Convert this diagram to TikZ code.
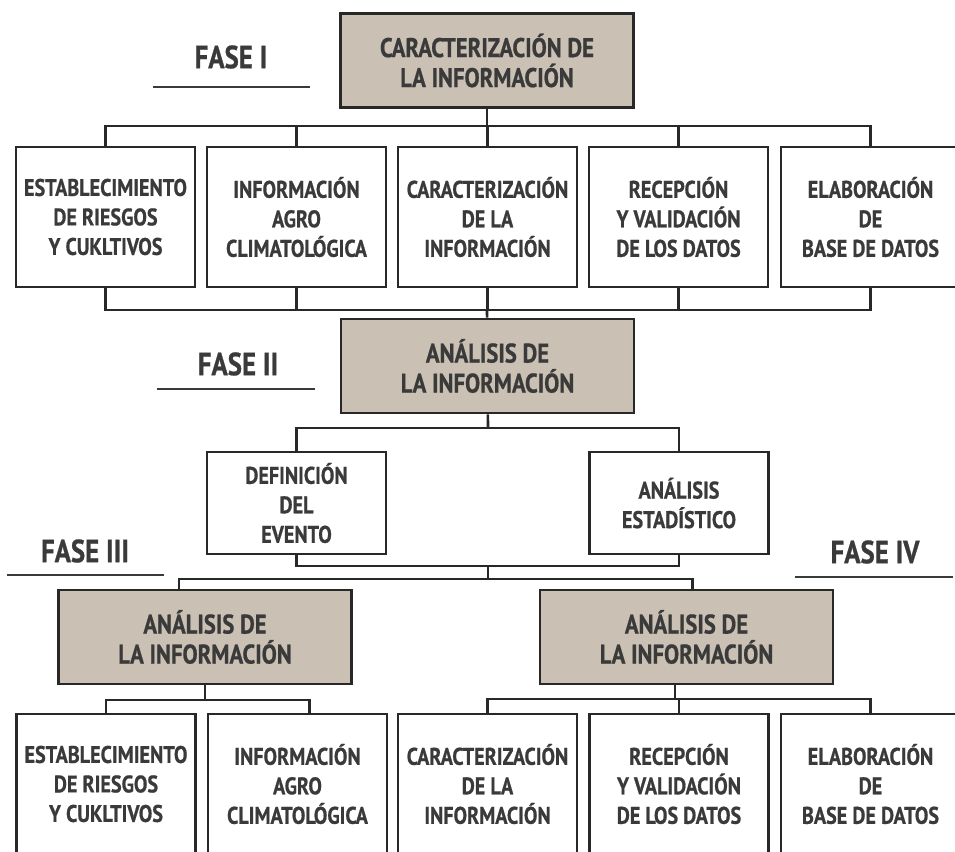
\documentclass[tikz,border=0pt]{standalone}
\usepackage{fontspec}
\setmainfont{PT Sans}[FakeStretch=0.84,BoldFeatures={FakeBold=0.7}]
\usetikzlibrary{calc}

\definecolor{cajagris}{RGB}{203,192,180}
\definecolor{tinta}{RGB}{58,58,58}
\definecolor{trazo}{RGB}{40,40,40}

\begin{document}
\begin{tikzpicture}[x=1pt,y=-1pt,
	caja/.style={draw=trazo,line width=2.8pt,fill=white,text=tinta,align=center,minimum width=179pt,minimum height=140pt,inner sep=0pt,font=\bfseries\fontsize{24}{29.5}\selectfont},
	cajafase/.style={caja,fill=cajagris,minimum width=293pt,minimum height=94pt,font=\bfseries\fontsize{27}{30}\selectfont},
	rotulo/.style={text=tinta,inner sep=0pt,font=\bfseries\fontsize{32}{34}\selectfont},
	raya/.style={draw=tinta,line width=2.5pt},
	enlace/.style={draw=trazo,line width=2.6pt}]
				\useasboundingbox (0,0) rectangle (955,851);
				\clip (0,0) rectangle (955,851);
				% fase I
				\node[rotulo] (fase1) at (231,57) {FASE I};
				\draw[raya] (153,87) -- (310,87);
				\node[cajafase] (top) at (487,60.5) {CARACTERIZACIÓN DE\\LA INFORMACIÓN};
				\node[caja] (r1a) at (105.5,217) {ESTABLECIMIENTO\\DE RIESGOS\\Y CUKLTIVOS};
				\node[caja] (r1b) at (296.5,217) {INFORMACIÓN\\AGRO\\CLIMATOLÓGICA};
				\node[caja] (r1c) at (487.5,217) {CARACTERIZACIÓN\\DE LA\\INFORMACIÓN};
				\node[caja] (r1d) at (678.5,217) {RECEPCIÓN\\Y VALIDACIÓN\\DE LOS DATOS};
				\node[caja] (r1e) at (870.5,217) {ELABORACIÓN\\DE\\BASE DE DATOS};
				% fase II
				\node[rotulo] (fase2) at (238,364) {FASE II};
				\draw[raya] (157,389) -- (315,389);
				\node[cajafase] (ana) at (487.5,366) {ANÁLISIS DE\\LA INFORMACIÓN};
				\node[caja,minimum height=102pt] (def) at (296.5,503) {DEFINICIÓN\\DEL\\EVENTO};
				\node[caja,minimum height=102pt] (est) at (679,503) {ANÁLISIS\\ESTADÍSTICO};
				% fases III y IV
				\node[rotulo] (fase3) at (85,551) {FASE III};
				\draw[raya] (7,575) -- (164,575);
				\node[rotulo] (fase4) at (875,552) {FASE IV};
				\draw[raya] (795,577) -- (953,577);
				\node[cajafase] (f3) at (205,637) {ANÁLISIS DE\\LA INFORMACIÓN};
				\node[cajafase] (f4) at (686.5,637) {ANÁLISIS DE\\LA INFORMACIÓN};
				\node[caja] (r2a) at (106,784) {ESTABLECIMIENTO\\DE RIESGOS\\Y CUKLTIVOS};
				\node[caja] (r2b) at (297.5,784) {INFORMACIÓN\\AGRO\\CLIMATOLÓGICA};
				\node[caja] (r2c) at (487.5,784) {CARACTERIZACIÓN\\DE LA\\INFORMACIÓN};
				\node[caja] (r2d) at (679,784) {RECEPCIÓN\\Y VALIDACIÓN\\DE LOS DATOS};
				\node[caja] (r2e) at (870.5,784) {ELABORACIÓN\\DE\\BASE DE DATOS};
				% buses
				\coordinate (bus1) at (487,126);
				\coordinate (bus2) at (487,310);
				\coordinate (bus3) at (488,428);
				\coordinate (bus4) at (488,566);
				\coordinate (bus5) at (488,579);
				\coordinate (bus6) at (205,700);
				\coordinate (bus7) at (675,699);
				\draw[enlace] (top) -- (bus1);
				\foreach \n in {r1a,r1b,r1c,r1d,r1e}
					\draw[enlace] (bus1) -| (\n.north);
				\foreach \n in {r1a,r1b,r1c,r1d,r1e}
					\draw[enlace] (bus2) -| (\n.south);
				\draw[enlace] (bus2) -- (ana);
				\draw[enlace] (ana) -- (bus3);
				\draw[enlace] (bus3) -| (def.north);
				\draw[enlace] (bus3) -| (est.north);
				\draw[enlace] (bus4) -| (def.south);
				\draw[enlace] (bus4) -| (est.south);
				\draw[enlace] (bus4) -- (bus5);
				\draw[enlace] (bus5) -| ([xshift=-26pt]f3.north);
				\draw[enlace] (bus5) -| ([xshift=6pt]f4.north);
				\draw[enlace] (f3) -- (bus6);
				\draw[enlace] (bus6) -| (r2a.north);
				\draw[enlace] (bus6) -| ([xshift=12pt]r2b.north);
				\draw[enlace] ([xshift=-11.5pt]f4.south) -- (bus7);
				\foreach \n in {r2c,r2d,r2e}
					\draw[enlace] (bus7) -| (\n.north);
			\end{tikzpicture}
\end{document}
